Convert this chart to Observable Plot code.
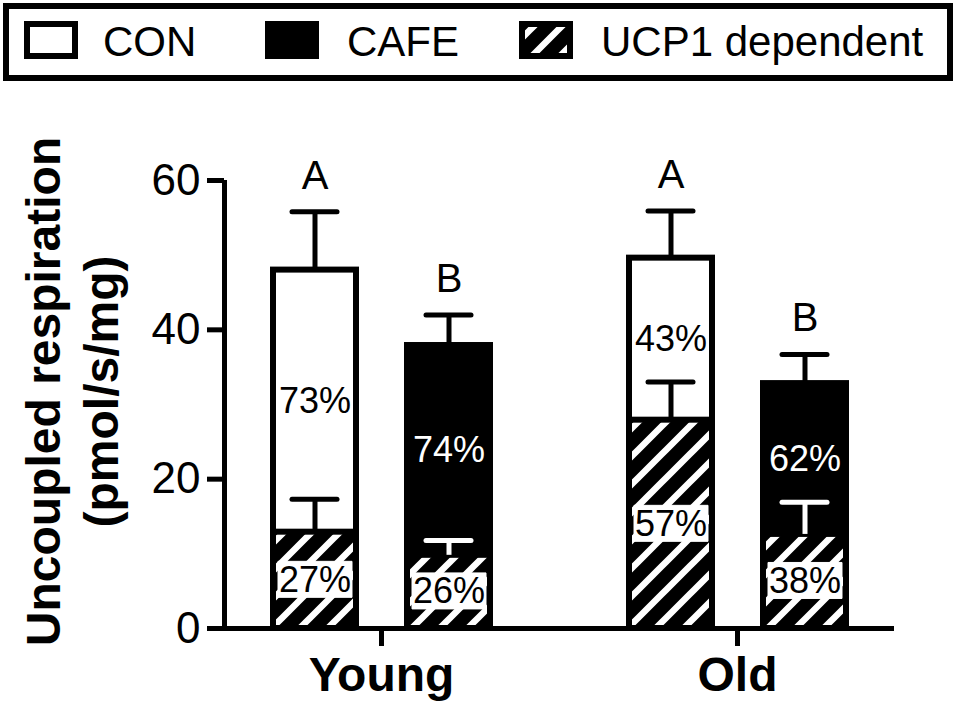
<!DOCTYPE html>
<html><head><meta charset="utf-8">
<script src="https://cdn.jsdelivr.net/npm/d3@7"></script>
<script src="https://cdn.jsdelivr.net/npm/@observablehq/plot@0.6"></script>
<style>
body{margin:0;background:#fff;font-family:"Liberation Sans",Arial,sans-serif;}
svg{display:block}
</style></head><body>
<svg id="legend" width="957" height="88" xmlns="http://www.w3.org/2000/svg">
  <defs>
    <pattern id="hatch" patternUnits="userSpaceOnUse" width="28" height="28">
      <rect width="28" height="28" fill="black"/>
      <path d="M-7,7 L7,-7 M0,28 L28,0 M21,35 L35,21" stroke="white" stroke-width="6.5"/>
    </pattern>
  </defs>
  <rect x="6" y="6" width="944" height="72" fill="white" stroke="black" stroke-width="6"/>
  <g id="legend-items" font-family="Liberation Sans, Arial, sans-serif" font-size="42"></g>
</svg>
<div id="chart"></div>
<script>
// ---- data ----
const groups = ["Young", "Old"];
const conditions = ["CON", "CAFE"];
// order: Young CON, Young CAFE, Old CON, Old CAFE
const totalMean = [48.0, 37.9, 49.6, 32.8];
const totalSem = [7.8, 4.1, 6.3, 3.9];
const ucpMean = [12.9, 9.8, 27.9, 12.6];
const ucpSem = [4.4, 2.0, 5.1, 4.3];
const letters = ["A", "B", "A", "B"];
const totalPct = ["73%", "74%", "43%", "62%"];
const ucpPct = ["27%", "26%", "57%", "38%"];
const legendLabels = ["CON", "CAFE", "UCP1 dependent"];
const legendFills = ["white", "black", "url(#hatch)"];
const yTicks = [0, 20, 40, 60];
const yTitle = "Uncoupled respiration\n(pmol/s/mg)";

// ---- legend ----
const legendX = [27, 268, 522];
const textX = [103, 347, 601];
const lg = document.getElementById("legend-items");
legendLabels.forEach((lab, i) => {
  const r = document.createElementNS("http://www.w3.org/2000/svg", "rect");
  r.setAttribute("x", legendX[i]); r.setAttribute("y", 24);
  r.setAttribute("width", 48); r.setAttribute("height", 32);
  r.setAttribute("fill", legendFills[i]); r.setAttribute("stroke", "black"); r.setAttribute("stroke-width", 6);
  lg.appendChild(r);
  const t = document.createElementNS("http://www.w3.org/2000/svg", "text");
  t.setAttribute("x", textX[i]); t.setAttribute("y", 56);
  t.textContent = lab;
  lg.appendChild(t);
});

// ---- table ----
const rows = groups.flatMap((g, i) => conditions.map((c, j) => {
  const k = i * conditions.length + j;
  return {group: g, cond: c, total: totalMean[k], totalSem: totalSem[k], ucp: ucpMean[k], ucpSem: ucpSem[k],
          letter: letters[k], totalPct: totalPct[k], ucpPct: ucpPct[k]};
}));

const ink = d => d.cond === "CON" ? "black" : "white";
// white label box behind the percentages in the hatched segments
const labelBox = {draw(ctx) { ctx.moveTo(-37, -19); ctx.lineTo(37, -19); ctx.lineTo(37, 17); ctx.lineTo(-37, 17); ctx.closePath(); }};

const chart = Plot.plot({
  width: 957, height: 619,
  marginLeft: 224, marginRight: 63, marginTop: 92, marginBottom: 79,
  style: {fontFamily: '"Liberation Sans", Arial, sans-serif', background: "white", color: "black"},
  fx: {domain: groups, paddingInner: 0.118, paddingOuter: 0, label: null},
  x: {domain: conditions, paddingInner: 0.381, paddingOuter: 0.362, axis: null},
  y: {domain: [0, 60]},
  color: {type: "identity"},
  marks: [
    // x axis line (continuous across facets)
    Plot.ruleY([0], {fx: () => "Young", insetRight: -21, strokeWidth: 5}),
    Plot.ruleY([0], {fx: () => "Old", insetLeft: -21, strokeWidth: 5}),
    // y axis line
    Plot.ruleX([0], {fx: () => "Young", x: null, y1: 0, y2: 60, dx: -157, strokeWidth: 5}),
    // total bars
    Plot.barY(rows, {fx: "group", x: "cond", y1: 0, y2: "total",
      fill: d => d.cond === "CON" ? "white" : "black", stroke: "black", strokeWidth: 6}),
    // UCP1 dependent bars
    Plot.barY(rows, {fx: "group", x: "cond", y1: 0, y2: "ucp",
      fill: () => "url(#hatch)", stroke: "black", strokeWidth: 6}),
    // total error bars
    Plot.ruleX(rows, {fx: "group", x: "cond", y1: "total", y2: d => d.total + d.totalSem, strokeWidth: 5}),
    Plot.tickY(rows, {fx: "group", x: "cond", y: d => d.total + d.totalSem, strokeWidth: 5,
      strokeLinecap: "round", insetLeft: 19, insetRight: 19}),
    // UCP1 error bars
    Plot.ruleX(rows, {fx: "group", x: "cond", y1: "ucp", y2: d => d.ucp + d.ucpSem, stroke: ink, strokeWidth: 5}),
    Plot.tickY(rows, {fx: "group", x: "cond", y: d => d.ucp + d.ucpSem, stroke: ink, strokeWidth: 5,
      strokeLinecap: "round", insetLeft: 19, insetRight: 19}),
    // percentage labels
    Plot.text(rows, {fx: "group", x: "cond", y: d => (d.ucp + d.total) / 2, text: "totalPct",
      fill: ink, fontSize: 36}),
    Plot.dot(rows, {fx: "group", x: "cond", y: d => d.ucp / 2, symbol: labelBox, r: 10,
      fill: "white", stroke: "white", strokeWidth: 1}),
    Plot.text(rows, {fx: "group", x: "cond", y: d => d.ucp / 2, text: "ucpPct",
      fill: "black", fontSize: 36}),
    // significance letters
    Plot.text(rows, {fx: "group", x: "cond", y: d => d.total + d.totalSem, text: "letter",
      dy: -36, fontSize: 40, fill: "black"}),
    // axes
    Plot.axisY({ticks: yTicks, tickSize: 17, tickPadding: 7, fontSize: 44, strokeWidth: 5, label: null}),
    Plot.axisFx({anchor: "bottom", tickSize: 18, tickPadding: 10, fontSize: 48, fontWeight: "bold",
      strokeWidth: 5, label: null}),
    // y title
    Plot.text([yTitle], {fx: () => "Young", text: d => d, frameAnchor: "left", textAnchor: "middle", rotate: -90,
      dx: -154, dy: -13, fontSize: 48, fontWeight: "bold", lineHeight: 1.2, fill: "black"})
  ]
});
document.getElementById("chart").appendChild(chart);
</script>
</body></html>
